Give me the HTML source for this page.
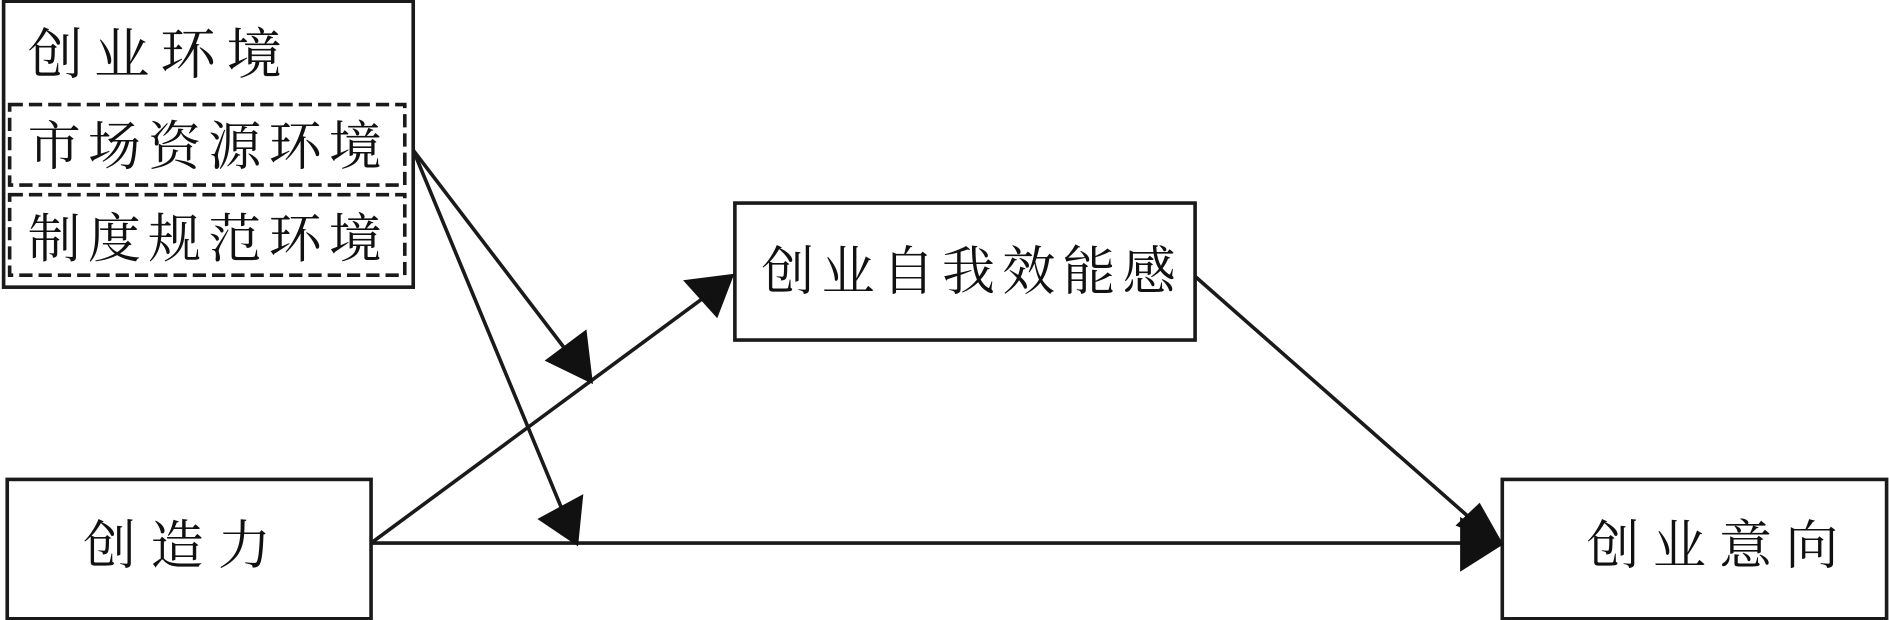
<!DOCTYPE html>
<html><head><meta charset="utf-8"><style>
html,body{margin:0;padding:0;background:#fff;}
svg{display:block;}
text{font-family:"Liberation Serif","Noto Serif CJK SC",serif;font-size:44px;letter-spacing:6px;fill:#111;}
</style></head><body>
<svg width="1889" height="620" viewBox="0 0 1568 516" preserveAspectRatio="none">
<g fill="none" stroke="#1a1a1a" stroke-width="3">
<rect x="3" y="1" width="340" height="238"/>
<rect x="8" y="87" width="328" height="67" stroke-dasharray="11,5"/>
<rect x="8" y="162" width="328" height="67" stroke-dasharray="11,5"/>
<rect x="610" y="169" width="382" height="114"/>
<rect x="6" y="399" width="302" height="116"/>
<rect x="1247" y="399" width="319" height="116"/>
<line x1="308" y1="452" x2="600" y2="236"/>
<line x1="308" y1="452" x2="1235" y2="452"/>
<line x1="992" y1="230" x2="1237" y2="446"/>
<line x1="343" y1="125" x2="484" y2="310"/>
<line x1="343" y1="125" x2="474" y2="442"/>
</g>
<g fill="#111" stroke="#111" stroke-width="2">
<polygon points="1246,453 1213,474 1213,432"/>
<polygon points="1246,452 1210,437 1228,420"/>
<polygon points="608,229 569,234 595,263"/>
<polygon points="491,318 454,300 486,276"/>
<polygon points="479,453 448,432 483,413"/>
</g>
<text x="23" y="61" style="font-size:46px;letter-spacing:9px">创业环境</text>
<text x="23" y="137">市场资源环境</text>
<text x="23" y="214">制度规范环境</text>
<text x="632" y="241">创业自我效能感</text>
<text x="69" y="469" style="letter-spacing:12px">创造力</text>
<text x="1317" y="469" style="letter-spacing:11px">创业意向</text>
</svg>
</body></html>
